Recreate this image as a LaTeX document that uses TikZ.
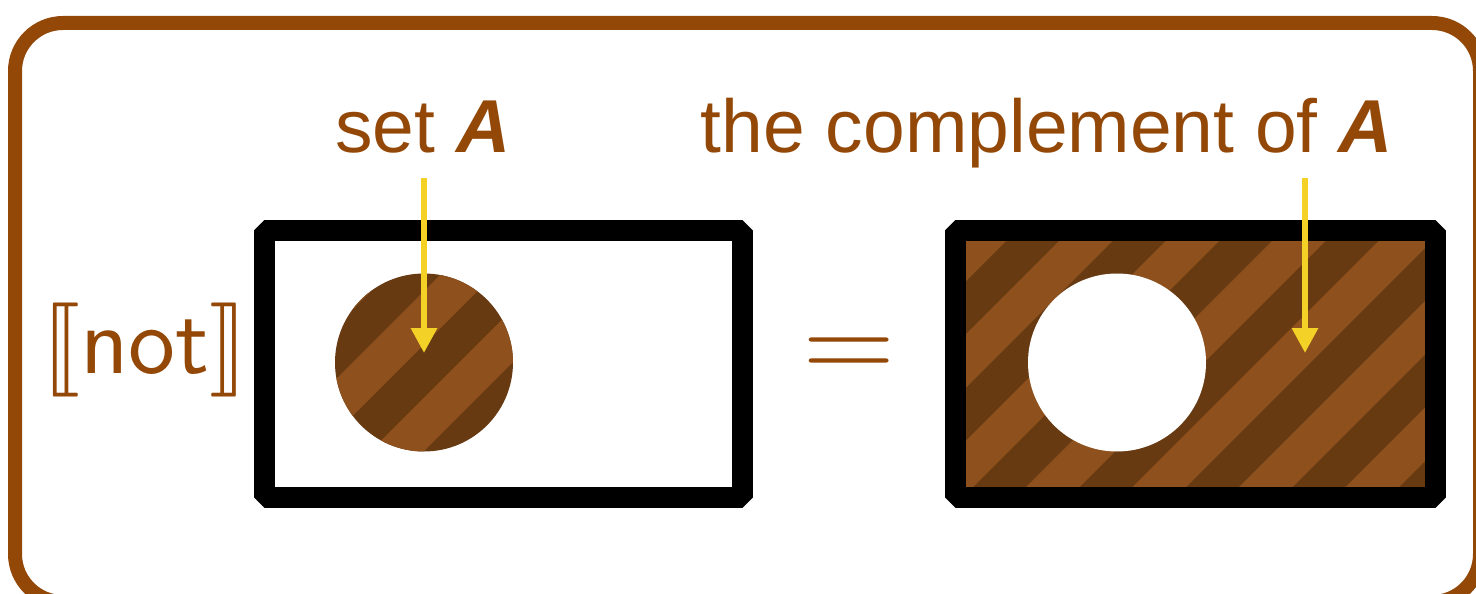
\documentclass[tikz,border=0pt]{standalone}
\usepackage{fontspec}
\usepackage{graphicx}
\usepackage{stmaryrd}
\usetikzlibrary{arrows.meta}
\newfontfamily\labfont{Liberation Sans}
\definecolor{framebrown}{HTML}{934808}
\definecolor{stripedark}{HTML}{673A12}
\definecolor{stripelight}{HTML}{8E511D}
\definecolor{pointer}{HTML}{F4D126}
\tikzset{
  frame/.style={draw=framebrown, line width=14pt, rounded corners=48pt},
  setbox/.style={draw=black, line width=21pt, line join=bevel},
  lab/.style={text=framebrown, inner sep=0pt, font=\labfont\fontsize{75}{90}\selectfont},
  semnode/.style={text=framebrown, inner sep=0pt},
  pointerarrow/.style={draw=pointer, line width=6pt, -{Triangle[width=25pt,length=25pt]}},
}
\begin{document}
\begin{tikzpicture}[x=1pt,y=-1pt]
\useasboundingbox (0,0) rectangle (1476,594);
\clip (0,0) rectangle (1476,594);
\fill[white] (0,0) rectangle (1476,594);
% outer frame
\draw[frame] (15,23) rectangle (1480,602);

% left: set A
\begin{scope}
  \clip (424,362.5) circle (89);
  \fill[stripedark] (330,270) rectangle (520,460);
  \foreach \k in {-2,...,3}{
    \pgfmathsetmacro\sa{715+106.5*\k}
    \pgfmathsetmacro\sb{768.5+106.5*\k}
    \fill[stripelight] (\sa,0) -- (\sb,0) -- (\sb-700,700) -- (\sa-700,700) -- cycle;
  }
\end{scope}
\draw[setbox] (264.5,230.5) rectangle (742,497);

% right: complement of A
\begin{scope}
  \clip (955,230.5) rectangle (1435,497);
  \fill[stripedark] (955,230.5) rectangle (1435,497);
  \foreach \k in {-2,...,6}{
    \pgfmathsetmacro\sa{1300+106.5*\k}
    \pgfmathsetmacro\sb{1353.5+106.5*\k}
    \fill[stripelight] (\sa,0) -- (\sb,0) -- (\sb-700,700) -- (\sa-700,700) -- cycle;
  }
\end{scope}
\fill[white] (1117,362.5) circle (89);
\draw[setbox] (955,230.5) rectangle (1435,497);

% texts
\node[lab, anchor=base] (setA) at (423,152) {set \textbf{\textit{A}}};
\node[lab, anchor=base] (compA) at (1047,152) {the complement of \textbf{\textit{A}}};
\node[semnode, anchor=base] (notsem) at (145,373) {\scalebox{9.4}{$\llbracket$\textsf{not}$\rrbracket$}};
\node[semnode, anchor=base] (eq) at (849,377) {\scalebox{12}[10.8]{$=$}};

% pointers
\coordinate (p1s) at (424,178);
\coordinate (p1e) at (424,353);
\coordinate (p2s) at (1305,178);
\coordinate (p2e) at (1305,353);
\draw[pointerarrow] (p1s) -- (p1e);
\draw[pointerarrow] (p2s) -- (p2e);
\end{tikzpicture}
\end{document}
